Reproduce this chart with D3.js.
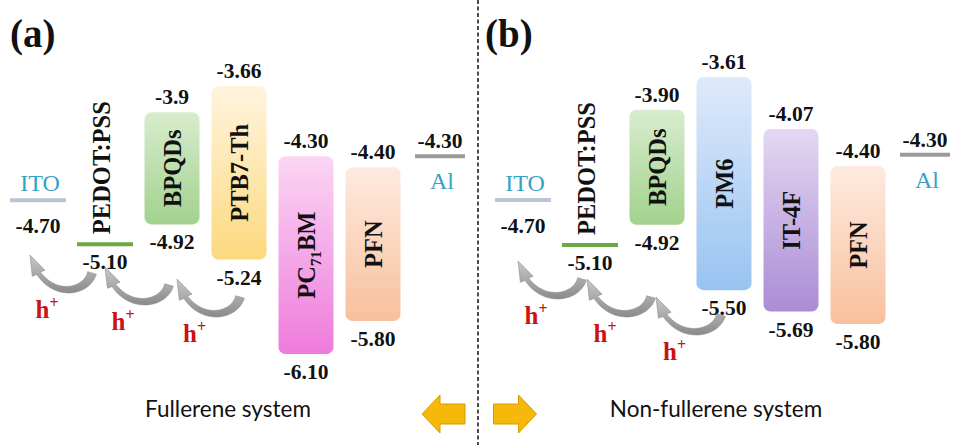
<!DOCTYPE html>
<html>
<head>
<meta charset="utf-8">
<script src="https://cdn.jsdelivr.net/npm/d3@7"></script>
<style>
  body { margin: 0; background: #fff; }
  svg { display: block; }
</style>
</head>
<body>
<div id="chart"></div>
<script>
// ---- data: energy levels (eV) ----
// panel (a) fullerene system
var layersA = ["ITO", "PEDOT:PSS", "BPQDs", "PTB7-Th", "PC71BM", "PFN", "Al"];
var upperA  = ["-4.70", "-5.10", "-3.9", "-3.66", "-4.30", "-4.40", "-4.30"];
var lowerA  = [null, null, "-4.92", "-5.24", "-6.10", "-5.80", null];

// panel (b) non-fullerene system
var layersB = ["ITO", "PEDOT:PSS", "BPQDs", "PM6", "IT-4F", "PFN", "Al"];
var upperB  = ["-4.70", "-5.10", "-3.90", "-3.61", "-4.07", "-4.40", "-4.30"];
var lowerB  = [null, null, "-4.92", "-5.50", "-5.69", "-5.80", null];

// hole transfer steps (from layer index -> to layer index)
var hops = [[1, 0], [2, 1], [3, 2]];

// ---- styles ----
var fills = {
  "BPQDs":   ["#d8ecce", "#a2d28d"],
  "PTB7-Th": ["#fff4de", "#fcd97f"],
  "PC71BM":  ["#fbd6f4", "#ee7bdc"],
  "PFN":     ["#fdeae0", "#f8c09c"],
  "PM6":     ["#dfeafa", "#98c3f1"],
  "IT-4F":   ["#e3d8f2", "#ab8cd5"]
};
var lineColors = {"ITO": "#bac4d3", "PEDOT:PSS": "#6ba944", "Al": "#9b9b9b"};
var serif = "'Liberation Serif', 'Times New Roman', serif";

var W = 954, H = 445;
var svg = d3.select("#chart").append("svg")
    .attr("width", W)
    .attr("height", H);

svg.append("rect").attr("width", W).attr("height", H).attr("fill", "#fff");

var defs = svg.append("defs");
function gid(name) { return "g-" + name.replace(/[^a-z0-9]/gi, ""); }
Object.keys(fills).forEach(function(k) {
  var gr = defs.append("linearGradient").attr("id", gid(k))
    .attr("x1", 0).attr("y1", 0).attr("x2", 0).attr("y2", 1);
  gr.append("stop").attr("offset", "0%").attr("stop-color", fills[k][0]);
  gr.append("stop").attr("offset", "100%").attr("stop-color", fills[k][1]);
});
var ag = defs.append("linearGradient").attr("id", "arrowGrad")
  .attr("x1", 0).attr("y1", 0).attr("x2", 0).attr("y2", 1);
ag.append("stop").attr("offset", "0%").attr("stop-color", "#c9c9c9");
ag.append("stop").attr("offset", "100%").attr("stop-color", "#8a8a8a");

// curved grey hole-transfer arrow (tail -> head)
function holeArrow(g, tx, ty, hx, hy) {
  var P0 = [tx, ty], P1 = [tx - 6, ty + 22], P2 = [hx + 14, hy + 46], P3 = [hx, hy];
  function bez(t) {
    var u = 1 - t;
    return [u*u*u*P0[0] + 3*u*u*t*P1[0] + 3*u*t*t*P2[0] + t*t*t*P3[0],
            u*u*u*P0[1] + 3*u*u*t*P1[1] + 3*u*t*t*P2[1] + t*t*t*P3[1]];
  }
  var tEnd = 0.84, n = 30, left = [], right = [];
  for (var i = 0; i <= n; i++) {
    var t = tEnd * i / n;
    var p = bez(t), q = bez(Math.min(t + 0.01, 1)), r = bez(Math.max(t - 0.01, 0));
    var dx = q[0] - r[0], dy = q[1] - r[1], len = Math.sqrt(dx*dx + dy*dy);
    var nx = -dy / len, ny = dx / len;
    var w = 4.5 - 2.3 * (t / tEnd);
    left.push([p[0] + nx * w, p[1] + ny * w]);
    right.push([p[0] - nx * w, p[1] - ny * w]);
  }
  var B = bez(tEnd), dx2 = P3[0] - B[0], dy2 = P3[1] - B[1], l2 = Math.sqrt(dx2*dx2 + dy2*dy2);
  var nx2 = -dy2 / l2, ny2 = dx2 / l2, hw = 7;
  var pts = left.concat([[B[0] + nx2 * hw, B[1] + ny2 * hw], P3, [B[0] - nx2 * hw, B[1] - ny2 * hw]])
    .concat(right.reverse());
  g.append("path")
    .attr("d", d3.line()(pts) + "Z")
    .attr("fill", "url(#arrowGrad)")
    .attr("stroke", "#8d8d8d")
    .attr("stroke-width", 0.6);
}

function hplus(g, x, y) {
  var t = g.append("text")
    .attr("x", x).attr("y", y)
    .attr("text-anchor", "middle")
    .attr("font-family", serif).attr("font-weight", "bold")
    .attr("font-size", 25).attr("fill", "#cc1212");
  t.append("tspan").text("h");
  t.append("tspan").attr("dy", -10).attr("font-size", 16).text("+");
}

function drawPanel(p) {
  var g = svg.append("g");
  var x = d3.scalePoint().domain(p.layers).range(p.xRange);
  var y = d3.scaleLinear().domain(p.yDomain).range(p.yRange);
  var last = p.layers.length - 1;
  var rows = p.layers.map(function(name, i) {
    return {name: name, i: i, top: p.upper[i], bottom: p.lower[i]};
  });

  function valueText(xx, yy, s) {
    g.append("text")
      .attr("x", xx).attr("y", yy)
      .attr("text-anchor", "middle")
      .attr("font-family", serif).attr("font-weight", "bold")
      .attr("font-size", 21.5).attr("fill", "#111")
      .text(s);
  }
  function verticalName(xx, yy, name, anchor) {
    var t = g.append("text")
      .attr("transform", "translate(" + xx + "," + yy + ") rotate(-90)")
      .attr("text-anchor", anchor)
      .attr("dy", "0.35em")
      .attr("font-family", serif).attr("font-weight", "bold")
      .attr("font-size", 24.5).attr("fill", "#111");
    if (name === "PC71BM") {
      t.append("tspan").text("PC");
      t.append("tspan").attr("dy", 6).attr("font-size", 15).text("71");
      t.append("tspan").attr("dy", -6).text("BM");
    } else {
      t.text(name);
    }
  }

  // boxes (LUMO -> HOMO)
  rows.filter(function(d) { return d.bottom !== null; }).forEach(function(d) {
    var x0 = x(d.name), yt = y(+d.top), yb = y(+d.bottom);
    g.append("rect")
      .attr("x", x0 - 27.5).attr("y", yt)
      .attr("width", 55).attr("height", yb - yt)
      .attr("rx", 7)
      .attr("fill", "url(#" + gid(d.name) + ")");
    verticalName(x0, (yt + yb) / 2, d.name, "middle");
    valueText(x0, yt - 8, d.top);
    valueText(x0, yb + 25, d.bottom);
  });

  // single levels (electrodes, PEDOT:PSS)
  rows.filter(function(d) { return d.bottom === null; }).forEach(function(d) {
    var x0 = x(d.name), yl = y(+d.top), w = d.i === last ? 50 : 56;
    g.append("line")
      .attr("x1", x0 - w / 2).attr("x2", x0 + w / 2)
      .attr("y1", yl).attr("y2", yl)
      .attr("stroke", lineColors[d.name]).attr("stroke-width", 4);
    if (d.i === 0 || d.i === last) {
      var nameAbove = d.i === 0;
      g.append("text")
        .attr("x", x0 + 2).attr("y", nameAbove ? yl - 9 : yl + 33)
        .attr("text-anchor", "middle")
        .attr("font-family", serif).attr("font-size", 24)
        .attr("fill", "#35a2c6")
        .text(d.name);
      valueText(x0, nameAbove ? yl + 33 : yl - 8, d.top);
    } else {
      valueText(x0, yl + 25, d.top);
      verticalName(x0 - 4, yl - 10, d.name, "start");
    }
  });

  // hole transfer arrows
  hops.forEach(function(h, k) {
    var ty = p.arrowY + k * p.arrowStep;
    var tx = x(p.layers[h[0]]) + p.tailDx[k];
    var hx = x(p.layers[h[1]]) + p.headDx[k];
    holeArrow(g, tx, ty, hx, ty - 18);
    hplus(g, (tx + hx) / 2 - 14, ty + 45);
  });

  // panel title and caption
  g.append("text")
    .attr("x", p.titleX).attr("y", 47)
    .attr("font-family", serif).attr("font-weight", "bold")
    .attr("font-size", 39).attr("fill", "#111")
    .text(p.title);
  g.append("text")
    .attr("x", p.captionX).attr("y", 417)
    .attr("text-anchor", "middle")
    .attr("font-family", "Lato, 'Open Sans', sans-serif")
    .attr("font-size", 22.5).attr("fill", "#111")
    .text(p.caption);
}

drawPanel({
  layers: layersA, upper: upperA, lower: lowerA,
  xRange: [38, 440], yDomain: [-3.66, -6.10], yRange: [86, 354],
  arrowY: 273, arrowStep: 12, tailDx: [-13, -3, 1], headDx: [-8, 0, 5],
  title: "(a)", titleX: 10, caption: "Fullerene system", captionX: 228
});

drawPanel({
  layers: layersB, upper: upperB, lower: lowerB,
  xRange: [523, 925], yDomain: [-3.61, -5.80], yRange: [77, 324],
  arrowY: 279, arrowStep: 18, tailDx: [-8, -6, -3], headDx: [-5, -3, -1],
  title: "(b)", titleX: 485, caption: "Non-fullerene system", captionX: 716
});

// divider
svg.append("line")
  .attr("x1", 478).attr("x2", 478).attr("y1", 0).attr("y2", H)
  .attr("stroke", "#222").attr("stroke-width", 1.6)
  .attr("stroke-dasharray", "4,2.5");

// yellow block arrows
var blockPts = [[-21.5, 0], [-3.5, -19], [-3.5, -10], [21.5, -10], [21.5, 10], [-3.5, 10], [-3.5, 19]];
[{cx: 443.5, dir: 1}, {cx: 515, dir: -1}].forEach(function(a) {
  svg.append("path")
    .attr("d", d3.line()(blockPts.map(function(pt) { return [a.cx + pt[0] * a.dir, 414 + pt[1]]; })) + "Z")
    .attr("fill", "#f6b80a")
    .attr("stroke", "#d79c00")
    .attr("stroke-width", 1);
});
</script>
</body>
</html>
